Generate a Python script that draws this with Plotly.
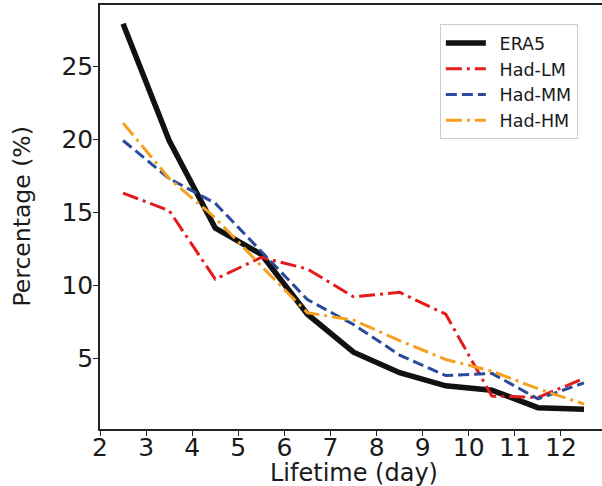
import plotly.graph_objects as go

lifetime = [2.5, 3.5, 4.5, 5.5, 6.5, 7.5, 8.5, 9.5, 10.5, 11.5, 12.5]
era5 = [27.9, 19.9, 13.9, 12.1, 8.0, 5.4, 4.0, 3.1, 2.8, 1.6, 1.5]
had_lm = [16.3, 15.1, 10.4, 11.9, 11.1, 9.2, 9.5, 8.0, 2.4, 2.3, 3.6]
had_mm = [19.9, 17.3, 15.6, 12.3, 9.0, 7.3, 5.2, 3.8, 3.95, 2.2, 3.3]
had_hm = [21.1, 17.3, 14.6, 11.3, 8.1, 7.6, 6.2, 4.9, 4.1, 2.9, 1.85]

x_ticks = [2, 3, 4, 5, 6, 7, 8, 9, 10, 11, 12]
y_ticks = [5, 10, 15, 20, 25]

FONT = "DejaVu Sans"
SP = "\u2002"

fig = go.Figure()
fig.add_trace(go.Scatter(x=lifetime, y=era5, name=SP + "ERA5", mode="lines",
                         line=dict(color="#111111", width=5.5)))
fig.add_trace(go.Scatter(x=lifetime, y=had_lm, name=SP + "Had-LM", mode="lines",
                         line=dict(color="#e41a1c", width=3, dash="16px,5px,3px,5px")))
fig.add_trace(go.Scatter(x=lifetime, y=had_mm, name=SP + "Had-MM", mode="lines",
                         line=dict(color="#2a4a9c", width=3, dash="11px,5px")))
fig.add_trace(go.Scatter(x=lifetime, y=had_hm, name=SP + "Had-HM", mode="lines",
                         line=dict(color="#f5a01e", width=3, dash="16px,5px,3px,5px")))

PW, PH = 502, 424

fig.update_layout(
    width=602, height=486,
    margin=dict(l=100, r=0, t=5, b=57),
    plot_bgcolor="white", paper_bgcolor="white",
    font=dict(family=FONT, color="#1a1a1a"),
    showlegend=True,
    legend=dict(x=0.677, y=0.955, xanchor="left", yanchor="top",
                font=dict(size=17.5, family=FONT, color="#1a1a1a"),
                bordercolor="#cccccc", borderwidth=1, bgcolor="white",
                itemwidth=40, tracegroupgap=0),
    xaxis=dict(range=[2, 12.89], tickvals=x_ticks, ticktext=[str(v) for v in x_ticks],
               showgrid=False, zeroline=False, showline=True, linecolor="#222222",
               linewidth=1.5, mirror=True, ticks="outside", ticklen=5, tickwidth=1.2,
               tickcolor="#222222", tickfont=dict(size=25, family=FONT),
               ticklabelstandoff=-10),
    yaxis=dict(range=[0.14, 29.18], tickvals=y_ticks, ticktext=[str(v) for v in y_ticks],
               showgrid=False, zeroline=False, showline=True, linecolor="#222222",
               linewidth=1.5, mirror=False, ticks="outside", ticklen=5, tickwidth=1.2,
               tickcolor="#222222", tickfont=dict(size=25, family=FONT),
               ticklabelstandoff=-5),
    annotations=[
        dict(text="Lifetime (day)", xref="paper", yref="paper",
             x=(354 - 100) / PW, y=-(473 - 429) / PH, xanchor="center", yanchor="middle",
             showarrow=False, font=dict(size=24, family=FONT, color="#1a1a1a")),
        dict(text="Percentage (%)", xref="paper", yref="paper",
             x=(21.5 - 100) / PW, y=0.5, xanchor="center", yanchor="middle", textangle=-90,
             showarrow=False, font=dict(size=23.5, family=FONT, color="#1a1a1a")),
    ],
)

fig.write_html("out.html", config={"displayModeBar": False},
               post_script="document.body.style.margin='0px';document.body.style.overflow='hidden';")
